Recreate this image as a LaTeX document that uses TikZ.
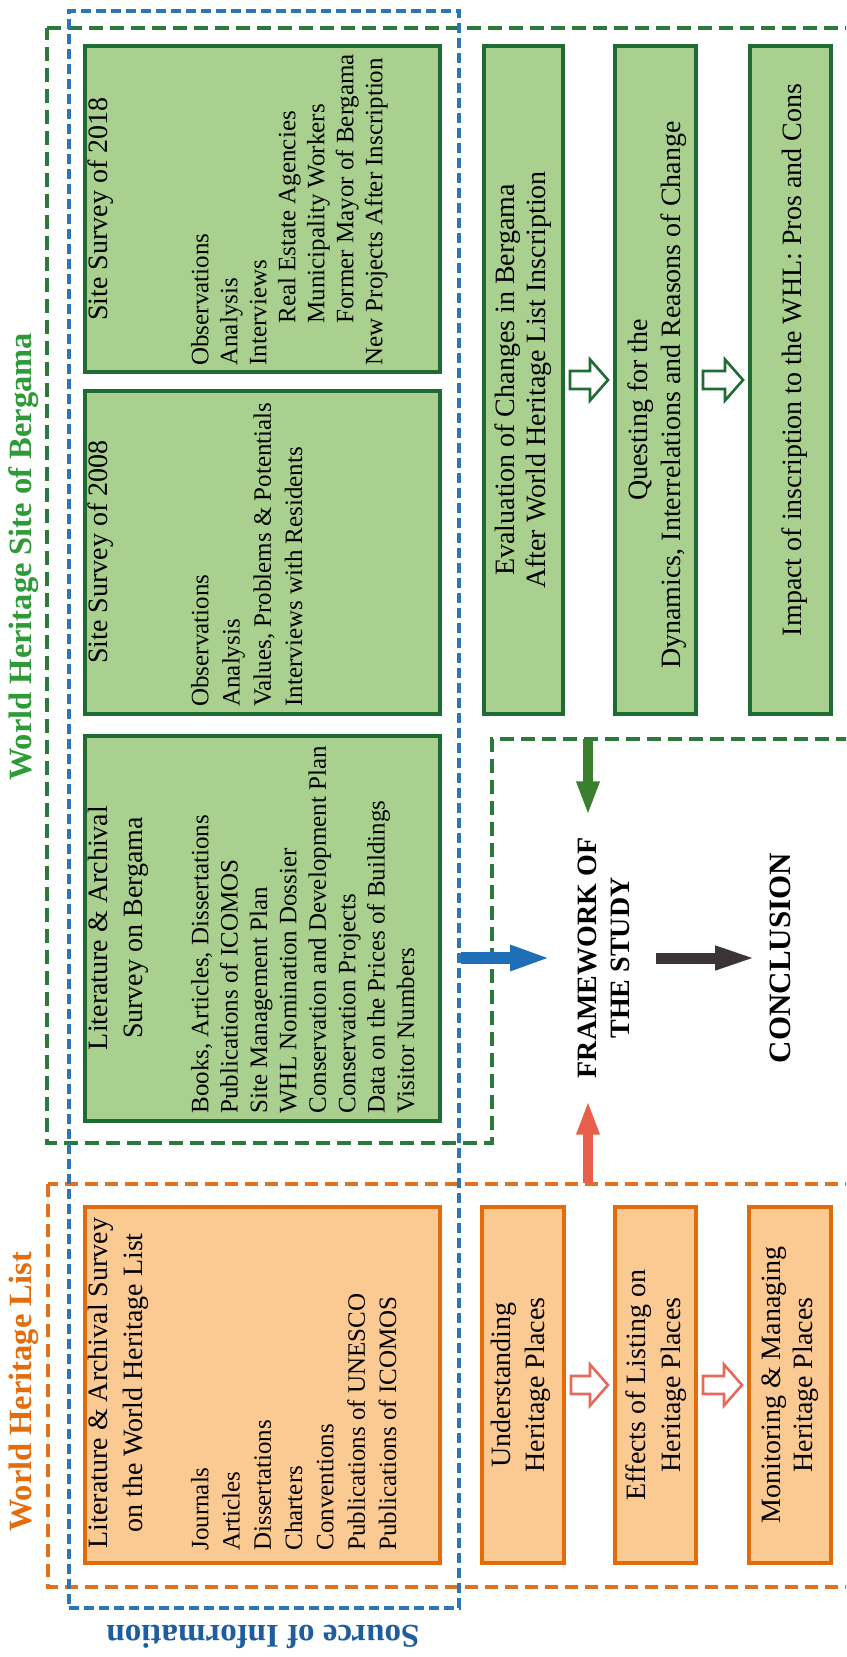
\documentclass[tikz,border=0pt]{standalone}
\usepackage{fontspec}
\setmainfont{Liberation Serif}
\usetikzlibrary{arrows.meta,calc}
\definecolor{gfill}{HTML}{A9D08E}
\definecolor{gline}{HTML}{1E6B33}
\definecolor{gdashc}{HTML}{2A7A3C}
\definecolor{gtitle}{HTML}{2F9A38}
\definecolor{garrow}{HTML}{3A7F2E}
\definecolor{ofill}{HTML}{FBC992}
\definecolor{oline}{HTML}{E36C0A}
\definecolor{odashc}{HTML}{E2711D}
\definecolor{otitle}{HTML}{E46C0A}
\definecolor{rarrow}{HTML}{E9604A}
\definecolor{oopen}{HTML}{E36A5C}
\definecolor{bdashc}{HTML}{2E75B6}
\definecolor{barrow}{HTML}{1F6FB8}
\definecolor{btitle}{HTML}{1F5E9E}
\definecolor{karrow}{HTML}{3B3434}
% style, name, x1, y1, x2, y2 (pixel units)
\newcommand\mkbox[6]{\node[#1, minimum width={(#5-#3)*0.5pt-2pt}, minimum height={(#6-#4)*0.5pt-2pt}] (#2) at ({(#3+#5)/2},{(#4+#6)/2}) {};}
% colour, from node, to node, y (pixel)
\newcommand\openarrow[4]{%
  \draw[#1, line width=1.3pt, fill=white, line join=miter]
    let \p1=(#2.east), \p2=(#3.west) in
    (\x1+2.5pt,{-#4*0.5pt+4.5pt}) -- (\x2-11.5pt,{-#4*0.5pt+4.5pt}) --
    (\x2-11.5pt,{-#4*0.5pt+10.25pt}) -- (\x2-2.5pt,{-#4*0.5pt}) --
    (\x2-11.5pt,{-#4*0.5pt-10.25pt}) -- (\x2-11.5pt,{-#4*0.5pt-4.5pt}) --
    (\x1+2.5pt,{-#4*0.5pt-4.5pt}) -- cycle;}
\begin{document}
\begin{tikzpicture}[x=0.5pt,y=-0.5pt,
  gbox/.style={draw=gline, fill=gfill, line width=2pt, inner sep=0pt},
  obox/.style={draw=oline, fill=ofill, line width=2pt, inner sep=0pt},
  srcb/.style={draw=bdashc, line width=1.75pt, dash pattern=on 5pt off 2.5pt, inner sep=0pt},
  dashg/.style={draw=gdashc, line width=2pt, dash pattern=on 7pt off 3.5pt},
  dasho/.style={draw=odashc, line width=2pt, dash pattern=on 6.5pt off 3.5pt},
  tline/.style={rotate=90, inner sep=0pt},
  ttl/.style={tline, font=\fontsize{14}{17.5}\selectfont, text height=9.8pt, text depth=2.8pt},
  tls/.style={tline, font=\fontsize{12.5}{15}\selectfont, text height=8.75pt, text depth=2.5pt, anchor=west},
  bigt/.style={inner sep=0pt, font=\bfseries\fontsize{16.25}{19}\selectfont},
  arrg/.style={draw=garrow, line width=5pt, -{Triangle[length=17pt,width=10.5pt]}},
  arrr/.style={draw=rarrow, line width=5pt, -{Triangle[length=17pt,width=10.5pt]}},
  arrb/.style={draw=barrow, line width=6pt, -{Triangle[length=20.5pt,width=11.5pt]}},
  arrk/.style={draw=karrow, line width=5.5pt, -{Triangle[length=21.5pt,width=10.5pt]}}
]
\useasboundingbox (0,0) rectangle (846,1657);
\clip (0,0) rectangle (846,1657);
\fill[white] (0,0) rectangle (846,1657);

% dashed frames
\draw[dashg] (47,28) -- (870,28) -- (870,739) -- (492,739) -- (492,1143) -- (47,1143) -- cycle;
\draw[dasho] (48,1184) rectangle (870,1587);

% boxes
\mkbox{gbox}{s18}{83}{44}{442}{374}
\mkbox{gbox}{s08}{83}{389}{442}{716}
\mkbox{gbox}{litb}{83}{734}{442}{1123}
\mkbox{obox}{litw}{83}{1205}{442}{1565}
\mkbox{gbox}{eval}{482}{44}{565}{716}
\mkbox{gbox}{quest}{613}{44}{698}{716}
\mkbox{gbox}{impact}{748}{44}{833}{716}
\mkbox{obox}{under}{480}{1205}{566}{1565}
\mkbox{obox}{effect}{613}{1205}{698}{1565}
\mkbox{obox}{monit}{747}{1205}{833}{1565}
\mkbox{srcb}{src}{67}{9}{461}{1610}

% main titles
\node[bigt, rotate=90, text=otitle] (whl) at (24,1392) {World Heritage List};
\node[bigt, rotate=90, text=gtitle] (whs) at (24,557) {World Heritage Site of Bergama};
\node[bigt, rotate=180, text=btitle, font=\bfseries\fontsize{16.5}{19}\selectfont] (soi) at (263,1637) {Source of Information};

% Literature & Archival Survey on the WHL
\node[ttl] (lwt1) at (100,1383) {Literature \& Archival Survey};
\node[ttl] (lwt2) at (135,1383) {on the World Heritage List};
\foreach \t [count=\i from 0] in {Journals, Articles, Dissertations, Charters, Conventions, Publications of UNESCO, Publications of ICOMOS}
  \node[tls] (lw\i) at ({202+31.3*\i},1551) {\t};

% Literature & Archival Survey on Bergama
\node[ttl] (lbt1) at (100,928) {Literature \& Archival};
\node[ttl] (lbt2) at (135,928) {Survey on Bergama};
\foreach \t [count=\i from 0] in {{Books, Articles, Dissertations}, Publications of ICOMOS, Site Management Plan, WHL Nomination Dossier, Conservation and Development Plan, Conservation Projects, Data on the Prices of Buildings, Visitor Numbers}
  \node[tls] (lb\i) at ({202+29.4*\i},1114) {\t};

% Site Survey of 2008
\node[ttl] (s08t) at (100,552) {Site Survey of 2008};
\foreach \t [count=\i from 0] in {Observations, Analysis, {Values, Problems \& Potentials}, Interviews with Residents}
  \node[tls] (s08\i) at ({202+31.3*\i},707) {\t};

% Site Survey of 2018
\node[ttl] (s18t) at (100,209) {Site Survey of 2018};
\node[tls] (s180) at (202,366) {Observations};
\node[tls] (s181) at (231,366) {Analysis};
\node[tls] (s182) at (260,366) {Interviews};
\node[tls] (s183) at (289,324) {Real Estate Agencies};
\node[tls] (s184) at (318,324) {Municipality Workers};
\node[tls] (s185) at (347,324) {Former Mayor of Bergama};
\node[tls] (s186) at (376,366) {New Projects After Inscription};

% right column, green
\node[ttl] (ev1) at (507,380) {Evaluation of Changes in Bergama};
\node[ttl] (ev2) at (538,380) {After World Heritage List Inscription};
\node[ttl] (qu1) at (640,410) {Questing for the};
\node[ttl] (qu2) at (673,395) {Dynamics, Interrelations and Reasons of Change};
\node[ttl] (im1) at (794,360) {Impact of inscription to the WHL: Pros and Cons};

% right column, orange
\node[ttl] (un1) at (503,1385) {Understanding};
\node[ttl] (un2) at (537,1385) {Heritage Places};
\node[ttl] (ef1) at (638,1385) {Effects of Listing on};
\node[ttl] (ef2) at (673,1385) {Heritage Places};
\node[ttl] (mo1) at (773,1385) {Monitoring \& Managing};
\node[ttl] (mo2) at (805,1385) {Heritage Places};

% open arrows
\openarrow{gline}{eval}{quest}{380}
\openarrow{gline}{quest}{impact}{380}
\openarrow{oopen}{under}{effect}{1385}
\openarrow{oopen}{effect}{monit}{1385}

% framework and conclusion
\node[rotate=90, align=center, font=\bfseries\fontsize{14}{16.5}\selectfont, inner xsep=11pt, inner ysep=13pt] (fw) at (603.5,958) {FRAMEWORK OF\\THE STUDY};
\node[rotate=90, font=\bfseries\fontsize{15.5}{18}\selectfont, inner xsep=0pt, inner ysep=5.5pt] (concl) at (780,958) {CONCLUSION};

\coordinate (gA) at (588,739);
\coordinate (rA) at (588,1183);
\draw[arrg] (gA) -- (gA |- fw.east);
\draw[arrr] (rA) -- (rA |- fw.west);
\draw[arrb] (src.east |- fw.center) -- (fw.north);
\draw[arrk] (fw.south) -- (concl.north);
\end{tikzpicture}
\end{document}
